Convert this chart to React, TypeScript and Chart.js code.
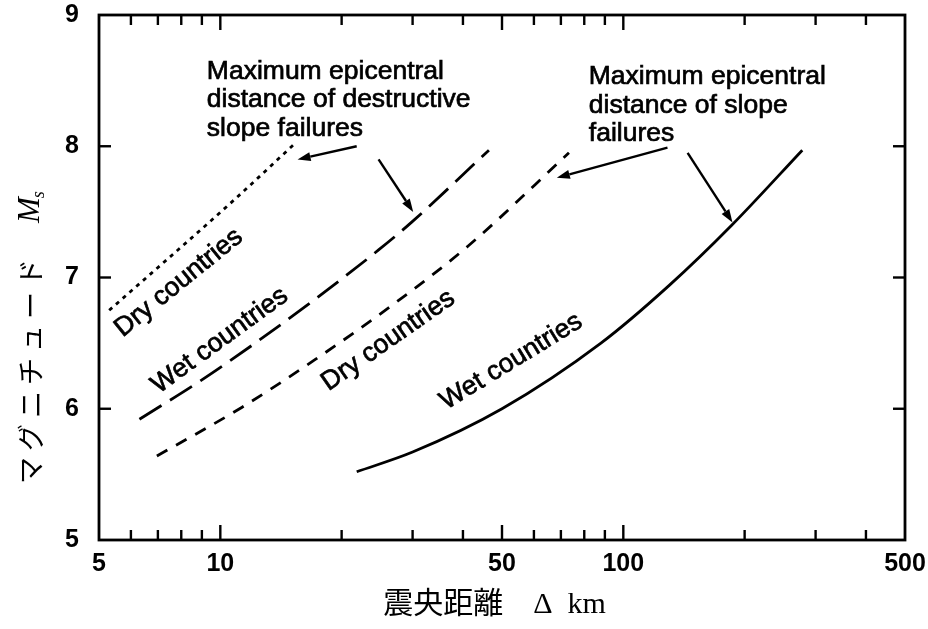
import React, { useEffect, useRef } from "react";
import { Chart, registerables } from "chart.js";

Chart.register(...registerables);

// ---- axis ticks ----
const xTickValues = [5, 6, 7, 8, 9, 10, 20, 30, 40, 50, 60, 70, 80, 90, 100, 200, 300, 400, 500];
const xLabeledTicks = [5, 10, 50, 100, 500];
const xMajorTicks = [10, 50, 100];
const yTickValues = [5, 6, 7, 8, 9];

// ---- series (epicentral distance km, magnitude Ms) ----
const dryDestructiveX = [5.3, 10.9, 15.3];
const dryDestructiveY = [6.75, 7.6, 8.02];

const wetDestructiveX = [6.3, 9.0, 12.2, 17.1, 24.7, 29.8, 46.4];
const wetDestructiveY = [5.92, 6.22, 6.5, 6.83, 7.21, 7.42, 7.97];

const drySlopeX = [6.96, 11.3, 17.1, 27.0, 41.2, 73.3];
const drySlopeY = [5.64, 6.01, 6.37, 6.8, 7.24, 7.95];

const wetSlopeX = [21.8, 30, 50, 88, 130, 186, 278];
const wetSlopeY = [5.52, 5.67, 6.0, 6.5, 6.94, 7.4, 7.97];

// ---- annotation texts ----
const curveLabelTexts = ["Dry countries", "Wet countries", "Dry countries", "Wet countries"];
const curveLabelX = [7.89, 9.97, 26.1, 52.7];
const curveLabelY = [6.96, 6.52, 6.52, 6.36];
const curveLabelAngle = [-39, -36, -35, -31.5];

const noteDestructive = ["Maximum epicentral", "distance of destructive", "slope failures"];
const noteSlope = ["Maximum epicentral", "distance of slope", "failures"];
const noteAnchorX = [9.26, 82.1];
const noteAnchorY = [8.57, 8.53];

const arrowFromX = [21.8, 24.7, 128.7, 144.4];
const arrowFromY = [8.0, 7.9, 7.99, 7.95];
const arrowToX = [15.55, 30.1, 68.4, 186.6];
const arrowToY = [7.9, 7.5, 7.76, 7.42];

const xTitle = "震央距離　Δ  km  ";
const yTitleJa = "マグニチュード";
const yTitleSym = "M";
const yTitleSub = "s";

const toPoints = (xs: number[], ys: number[]) => xs.map((x, i) => ({ x, y: ys[i] }));

const overlayPlugin = {
  id: "overlay",
  afterDraw(chart: any) {
    const { ctx, chartArea: a } = chart;
    const xs = chart.scales.x;
    const ys = chart.scales.y;
    ctx.save();
    ctx.strokeStyle = "#000";
    ctx.fillStyle = "#000";
    ctx.lineCap = "butt";

    // frame
    ctx.lineWidth = 2.8;
    ctx.strokeRect(a.left, a.top, a.right - a.left, a.bottom - a.top);

    // inward ticks
    ctx.lineWidth = 2.4;
    const seg = (x1: number, y1: number, x2: number, y2: number) => {
      ctx.beginPath();
      ctx.moveTo(x1, y1);
      ctx.lineTo(x2, y2);
      ctx.stroke();
    };
    xTickValues.forEach((v) => {
      if (v === 5 || v === 500) return;
      const px = xs.getPixelForValue(v);
      const len = xMajorTicks.includes(v) ? 15 : 10;
      seg(px, a.bottom, px, a.bottom - len);
      seg(px, a.top, px, a.top + len);
    });
    yTickValues.forEach((v) => {
      if (v === 5 || v === 9) return;
      const py = ys.getPixelForValue(v);
      seg(a.left, py, a.left + 12, py);
      seg(a.right, py, a.right - 12, py);
    });

    // curve labels
    ctx.font = "26.5px 'Liberation Sans', Arial, sans-serif";
    ctx.lineWidth = 0.7;
    ctx.textAlign = "center";
    ctx.textBaseline = "middle";
    curveLabelTexts.forEach((t, i) => {
      const px = xs.getPixelForValue(curveLabelX[i]);
      const py = ys.getPixelForValue(curveLabelY[i]);
      ctx.save();
      ctx.translate(px, py);
      ctx.rotate((curveLabelAngle[i] * Math.PI) / 180);
      ctx.fillText(t, 0, 0);
      ctx.strokeText(t, 0, 0);
      ctx.restore();
    });

    // notes
    ctx.textAlign = "left";
    const notes = [noteDestructive, noteSlope];
    notes.forEach((lines, n) => {
      const px = xs.getPixelForValue(noteAnchorX[n]);
      const py = ys.getPixelForValue(noteAnchorY[n]);
      lines.forEach((l, k) => {
        ctx.fillText(l, px, py + k * 28.5);
        ctx.strokeText(l, px, py + k * 28.5);
      });
    });

    // arrows
    ctx.lineWidth = 2.4;
    arrowFromX.forEach((_, i) => {
      const x1 = xs.getPixelForValue(arrowFromX[i]);
      const y1 = ys.getPixelForValue(arrowFromY[i]);
      const x2 = xs.getPixelForValue(arrowToX[i]);
      const y2 = ys.getPixelForValue(arrowToY[i]);
      const ang = Math.atan2(y2 - y1, x2 - x1);
      const hl = 13;
      const hw = 4.5;
      const bx = x2 - hl * Math.cos(ang);
      const by = y2 - hl * Math.sin(ang);
      seg(x1, y1, bx, by);
      ctx.beginPath();
      ctx.moveTo(x2, y2);
      ctx.lineTo(bx + hw * Math.sin(ang), by - hw * Math.cos(ang));
      ctx.lineTo(bx - hw * Math.sin(ang), by + hw * Math.cos(ang));
      ctx.closePath();
      ctx.fill();
    });

    // y axis title (rotated)
    ctx.save();
    ctx.translate(31, 484);
    ctx.rotate(-Math.PI / 2);
    ctx.textAlign = "left";
    ctx.textBaseline = "middle";
    ctx.font = "27px 'Noto Sans CJK JP', sans-serif";
    (ctx as any).letterSpacing = "6px";
    ctx.fillText(yTitleJa, 0, 0);
    const w = ctx.measureText(yTitleJa).width;
    (ctx as any).letterSpacing = "0px";
    ctx.font = "italic 31px 'Liberation Serif', serif";
    const mx = w + 30;
    ctx.fillText(yTitleSym, mx, 0);
    const mw = ctx.measureText(yTitleSym).width;
    ctx.font = "italic 18px 'Liberation Serif', serif";
    ctx.fillText(yTitleSub, mx + mw - 1, 8);
    ctx.restore();

    ctx.restore();
  },
};

export default function App() {
  const ref = useRef<HTMLCanvasElement | null>(null);
  useEffect(() => {
    if (!ref.current) return;
    const tickFont = { family: "'Liberation Sans', Arial, sans-serif", size: 25, weight: "bold" as const };
    const chart = new Chart(ref.current, {
      type: "line",
      data: {
        datasets: [
          {
            label: "Dry destructive",
            data: toPoints(dryDestructiveX, dryDestructiveY),
            borderDash: [4, 5],
          },
          {
            label: "Wet destructive",
            data: toPoints(wetDestructiveX, wetDestructiveY),
            borderDash: [26, 10],
          },
          {
            label: "Dry slope",
            data: toPoints(drySlopeX, drySlopeY),
            borderDash: [12, 10],
          },
          {
            label: "Wet slope",
            data: toPoints(wetSlopeX, wetSlopeY),
          },
        ].map((d) => ({
          ...d,
          borderColor: "#000",
          backgroundColor: "#000",
          borderWidth: 2.8,
          pointRadius: 0,
          fill: false,
          cubicInterpolationMode: "monotone" as const,
        })),
      },
      options: {
        animation: false,
        responsive: false,
        devicePixelRatio: 1,
        layout: { padding: { left: 0, right: 23, top: 15, bottom: 0 } },
        plugins: { legend: { display: false }, tooltip: { enabled: false } },
        scales: {
          x: {
            type: "logarithmic",
            min: 5,
            max: 500,
            grid: { display: false },
            border: { display: false },
            afterBuildTicks: (s: any) => {
              s.ticks = xTickValues.map((v) => ({ value: v }));
            },
            afterFit: (s: any) => {
              s.height = 89;
              s.paddingLeft = 0;
              s.paddingRight = 0;
            },
            ticks: {
              autoSkip: false,
              maxRotation: 0,
              minRotation: 0,
              padding: 1,
              color: "#000",
              font: tickFont,
              callback: (v: any) => (xLabeledTicks.includes(Number(v)) ? String(v) : ""),
            },
            title: {
              display: true,
              text: xTitle,
              color: "#000",
              font: { family: "'Liberation Serif', 'Noto Sans CJK JP', serif", size: 30 },
              padding: { top: 0, bottom: 6 },
            },
          },
          y: {
            type: "linear",
            min: 5,
            max: 9,
            grid: { display: false },
            border: { display: false },
            afterBuildTicks: (s: any) => {
              s.ticks = yTickValues.map((v) => ({ value: v }));
            },
            afterFit: (s: any) => {
              s.width = 99;
              s.paddingTop = 0;
              s.paddingBottom = 0;
            },
            ticks: { padding: 12, color: "#000", font: tickFont },
            title: { display: false },
          },
        },
      },
      plugins: [overlayPlugin],
    });
    return () => chart.destroy();
  }, []);

  return (
    <div style={{ position: "absolute", left: 0, top: 0, width: 928, height: 629, background: "#fff" }}>
      <canvas ref={ref} width={928} height={629} style={{ width: 928, height: 629 }} />
    </div>
  );
}
